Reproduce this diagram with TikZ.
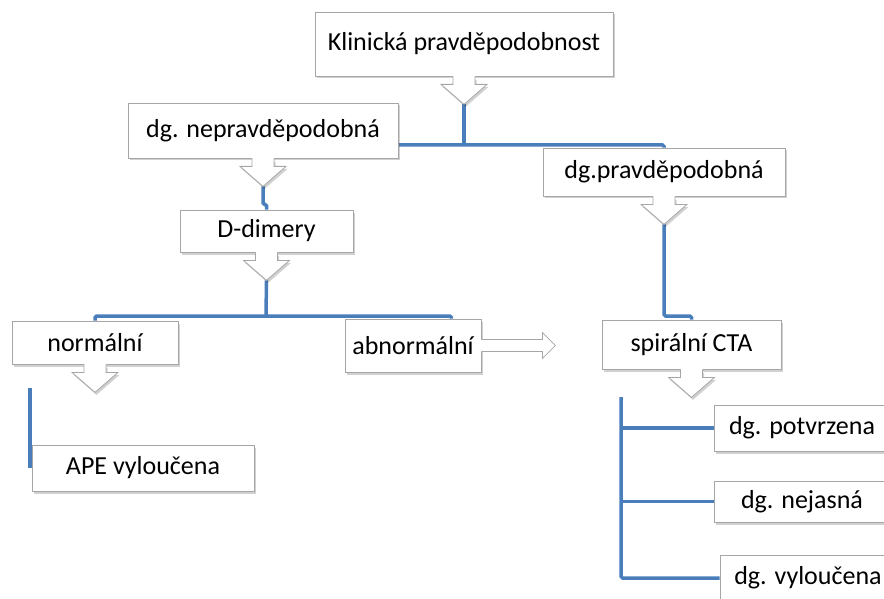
\documentclass[tikz,border=0pt]{standalone}
\usepackage{fontspec}
\setmainfont{Carlito}
\usepackage{tikz}
\usetikzlibrary{positioning, backgrounds, shadows}

\definecolor{linkblue}{RGB}{74,126,187}

\tikzset{
  ptrline/.style={draw=black!35, line width=0.8pt, line join=miter},
  % downward pointer hanging under a box
  pics/dnptr/.style={code={
    \fill[black, opacity=0.18, xshift=1.5pt, yshift=-2.5pt]
      (-11,1) -- (-11,8) -- (-23,8) -- (0,28) -- (23,8) -- (11,8) -- (11,1) -- cycle;
    \fill[white] (-11,-1.5) -- (-11,8) -- (-23,8) -- (0,28) -- (23,8) -- (11,8) -- (11,-1.5) -- cycle;
    \draw[ptrline] (-11,0) -- (-11,8) -- (-23,8) -- (0,28) -- (23,8) -- (11,8) -- (11,0);
    \coordinate (-tip) at (0,28);
  }},
  % pointer to the right
  pics/rtptr/.style={code={
    \fill[white] (-1.5,-6) -- (61,-6) -- (61,-13) -- (74,0) -- (61,13) -- (61,6) -- (-1.5,6) -- cycle;
    \draw[ptrline] (0,-6) -- (61,-6) -- (61,-13) -- (74,0) -- (61,13) -- (61,6) -- (0,6);
  }},
}

\begin{document}
\begin{tikzpicture}[
  x=1pt, y=-1pt,
  box/.style={rectangle, draw=black!35, fill=white, line width=0.8pt,
              drop shadow={shadow xshift=1.5pt, shadow yshift=-2.5pt, opacity=0.3, fill=black!60},
              inner sep=0pt, align=center, font=\fontsize{26}{30}\selectfont},
  link/.style={linkblue, line width=3.5pt, rounded corners=1.5pt},
]
  \useasboundingbox (0,0) rectangle (884,599);
  \clip (0,0) rectangle (884,599);

  \node[box, minimum width=298pt, minimum height=64pt] (klin)  at (464,44)    {Klinická pravděpodobnost};
  \node[box, minimum width=270pt, minimum height=55pt] (nepr)  at (263,130.5) {dg. nepravděpodobná};
  \node[box, minimum width=242pt, minimum height=48pt] (prav)  at (664,172)   {dg.pravděpodobná};
  \node[box, minimum width=173pt, minimum height=42pt] (ddim)  at (266.5,231) {D-dimery};
  \node[box, minimum width=166pt, minimum height=43pt] (norm)  at (95,342.5)  {normální};
  \node[box, minimum width=136pt, minimum height=53pt] (abn)   at (413,345.5) {abnormální};
  \node[box, minimum width=179pt, minimum height=49pt] (cta)   at (691.5,344.5) {spirální CTA};
  \node[box, minimum width=222pt, minimum height=46pt] (ape)   at (143,468)   {APE vyloučena};
  \node[box, minimum width=176pt, minimum height=46pt] (potv)  at (802,428)   {dg. potvrzena};
  \node[box, minimum width=176pt, minimum height=41pt] (nejas) at (802,501.5) {dg. nejasná};
  \node[box, minimum width=176pt, minimum height=46pt] (vylo)  at (808,578)   {dg. vyloučena};

  \pic (kp) at (klin.south) {dnptr};
  \pic (np) at (nepr.south) {dnptr};
  \pic (pp) at (prav.south) {dnptr};
  \pic (dp) at (ddim.south) {dnptr};
  \pic (mp) at (norm.south) {dnptr};
  \pic (cp) at (cta.south) {dnptr};
  \pic at (abn.east) {rtptr};

  \coordinate (j1) at (464,145);
  \coordinate (j2) at (266,316);
  \coordinate (j3) at (664,316);
  \coordinate (j4) at (30,388);
  \coordinate (j5) at (621,397);

  \begin{scope}[on background layer]
    \draw[link] (kp-tip) -- (j1);
    \draw[link] (nepr.east |- j1) -- (j1) -| (prav.north);
    \draw[link] (np-tip) -- ++(0,18) -| (ddim.north);
    \draw[link] (dp-tip) -- (j2);
    \draw[link] (norm.north) |- (j2) -| ([xshift=-30pt]abn.north east);
    \draw[link] (pp-tip) -- (j3) -| (cta.north);
    \draw[link] (j4) -- (j4 |- ape.west);
    \draw[link] (j5) |- (vylo.west);
    \draw[link] (j5 |- potv.west) -- (potv.west);
    \draw[link] (j5 |- nejas.west) -- (nejas.west);
  \end{scope}
\end{tikzpicture}
\end{document}
